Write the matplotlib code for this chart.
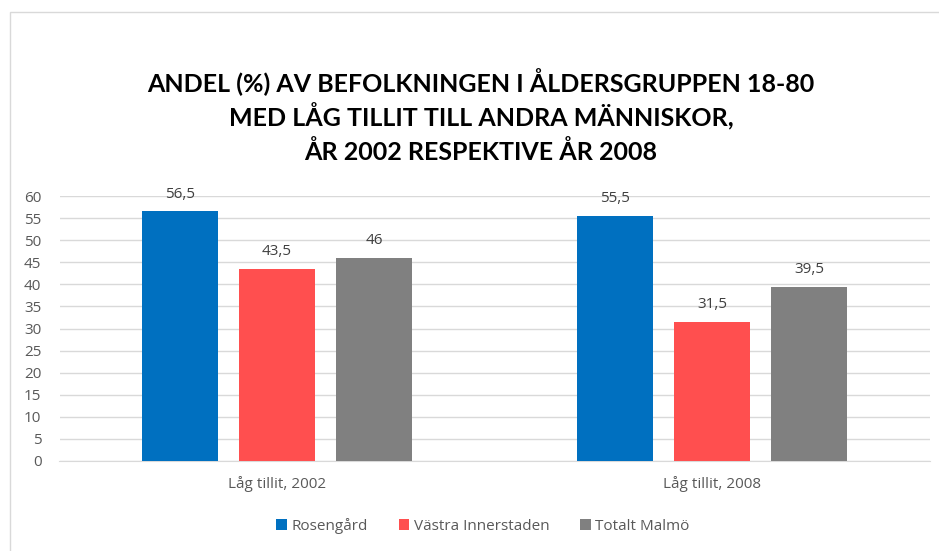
import matplotlib.pyplot as plt
from matplotlib.patches import Rectangle
import numpy as np

# data
kategorier = ["Låg tillit, 2002", "Låg tillit, 2008"]
serier = ["Rosengård", "Västra Innerstaden", "Totalt Malmö"]
rosengard = [56.5, 55.5]
vastra = [43.5, 31.5]
totalt = [46, 39.5]
etiketter = [["56,5", "55,5"], ["43,5", "31,5"], ["46", "39,5"]]
farger = ["#0070C0", "#FF4F4F", "#808080"]

plt.rcParams['font.family'] = ['Open Sans', 'DejaVu Sans']

fig = plt.figure(figsize=(9.39, 5.51), dpi=100)
fig.patches.append(Rectangle((10 / 939, -0.01), 1.0, (551 - 12) / 551 + 0.01,
                             transform=fig.transFigure, fill=False,
                             edgecolor="#d9d9d9", linewidth=1))
ax = fig.add_axes([59.5 / 939, 90 / 551, 870 / 939, 265 / 551])

x = np.arange(len(kategorier))
bredd = 0.175
steg = 0.223
for i, (namn, varden) in enumerate(zip(serier, [rosengard, vastra, totalt])):
    pos = x + (i - 1) * steg
    ax.bar(pos, varden, width=bredd, color=farger[i], label=namn, zorder=3)
    for p, v, t in zip(pos, varden, etiketter[i]):
        ax.text(p, v + 2.2, t, ha="center", va="bottom", fontsize=11, color="#404040")

ax.set_xlim(-0.5, 1.5)
ax.set_ylim(0, 60)
ax.set_yticks(range(0, 61, 5))
ax.set_xticks(x)
ax.set_xticklabels(kategorier)
ax.grid(axis="y", color="#d9d9d9", linewidth=1, zorder=0)
for s in ["top", "right", "left"]:
    ax.spines[s].set_visible(False)
ax.spines["bottom"].set_color("#d9d9d9")
ax.tick_params(axis="both", length=0, labelsize=11, colors="#595959")
ax.tick_params(axis="y", pad=13)
ax.tick_params(axis="x", pad=11)

titel = ["ANDEL (%) AV BEFOLKNINGEN I ÅLDERSGRUPPEN 18-80",
         "MED LÅG TILLIT TILL ANDRA MÄNNISKOR,",
         "ÅR 2002 RESPEKTIVE ÅR 2008"]
for rad, ypix in zip(titel, [82, 117, 152]):
    fig.text(481 / 939, 1 - ypix / 551, rad, ha="center", va="center", fontsize=18,
             fontweight="bold", family=["Lato", "DejaVu Sans"])

fig.legend(loc="center", bbox_to_anchor=(483 / 939, 1 - 526 / 551), ncol=3, frameon=False,
           fontsize=11, handlelength=0.7, handleheight=0.7, handletextpad=0.3,
           columnspacing=2.0, labelcolor="#595959")

fig.savefig("out.png", dpi=100)
